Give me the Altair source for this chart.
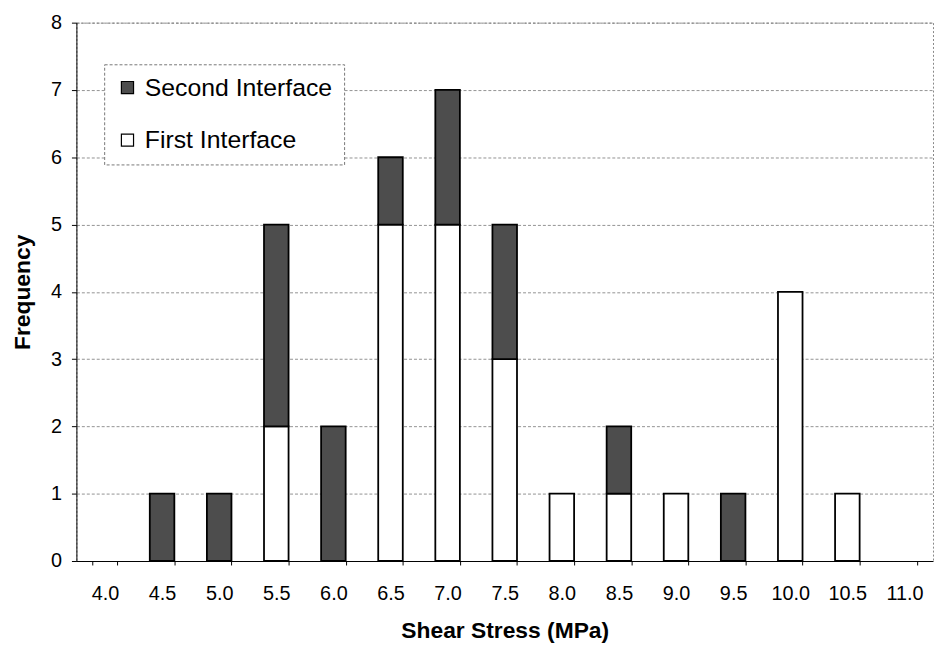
import altair as alt
import pandas as pd

categories = ["4.0", "4.5", "5.0", "5.5", "6.0", "6.5", "7.0", "7.5",
              "8.0", "8.5", "9.0", "9.5", "10.0", "10.5", "11.0"]
first_interface = [0, 0, 0, 2, 0, 5, 5, 3, 1, 1, 1, 0, 4, 1, 0]
second_interface = [0, 1, 1, 3, 2, 1, 2, 2, 0, 1, 0, 1, 0, 0, 0]
series_names = ["Second Interface", "First Interface"]
series_colors = ["#4d4d4d", "#ffffff"]

rows = []
for c, f, s in zip(categories, first_interface, second_interface):
    rows.append({"stress": c, "series": "First Interface", "freq": f, "ord": 0})
    rows.append({"stress": c, "series": "Second Interface", "freq": s, "ord": 1})
df = pd.DataFrame(rows)

FONT = "Liberation Sans"

chart = alt.Chart(df).mark_bar(stroke="black", strokeWidth=1.8).encode(
    x=alt.X("stress:N", sort=categories,
            scale=alt.Scale(domain=categories, paddingInner=0.57, paddingOuter=0.285),
            axis=alt.Axis(title="Shear Stress (MPa)", labelAngle=0, tickBand="extent",
                          tickSize=4, labelPadding=19, titlePadding=16,
                          labelFontSize=20, titleFontSize=23,
                          domainColor="black", tickColor="black", grid=False)),
    y=alt.Y("freq:Q", stack="zero",
            scale=alt.Scale(domain=[0, 8], nice=False),
            axis=alt.Axis(title="Frequency", values=list(range(0, 9)), tickSize=5,
                          labelPadding=10, titlePadding=16, grid=True,
                          labelFontSize=20, titleFontSize=23,
                          gridColor="#777", gridDash=[3, 2], gridWidth=0.8,
                          domainColor="black", tickColor="black")),
    color=alt.Color("series:N",
                    scale=alt.Scale(domain=series_names, range=series_colors),
                    legend=alt.Legend(title=None, orient="none", legendX=28, legendY=42,
                                      symbolType="square", symbolSize=150,
                                      symbolStrokeColor="black", symbolStrokeWidth=1.2,
                                      labelFontSize=25, rowPadding=27, labelOffset=5,
                                      padding=11, strokeColor="#777",
                                      fillColor="white", labelLimit=400)),
    order=alt.Order("ord:Q"),
).transform_filter(
    alt.datum.freq > 0
).properties(
    width=864, height=543,
    autosize=alt.AutoSizeParams(type="none"),
    padding={"left": 69, "top": 12, "right": 2, "bottom": 90},
).configure(
    font=FONT,
).configure_axis(
    labelFont=FONT, titleFont=FONT,
    labelColor="black", titleColor="black", titleFontWeight="bold",
).configure_legend(
    labelFont=FONT, labelColor="black", strokeDash=[3, 2],
).configure_view(
    stroke="#888", strokeDash=[2, 2],
)

chart.save("out.html", embed_options={"renderer": "svg", "actions": False})
